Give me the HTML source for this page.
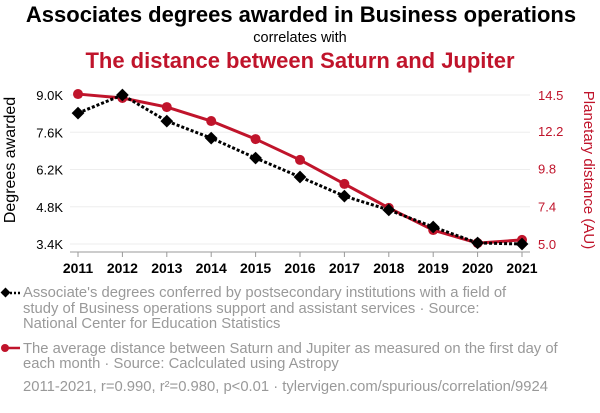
<!DOCTYPE html>
<html><head><meta charset="utf-8"><style>
body{margin:0;width:600px;height:408px;background:#fff;overflow:hidden;font-family:"Liberation Sans",sans-serif}
svg text{font-family:"Liberation Sans",sans-serif}
</style></head><body>
<svg id="c" width="600" height="408">
<text x="301" y="22" text-anchor="middle" font-size="22" font-weight="bold" fill="#000">Associates degrees awarded in Business operations</text>
<text x="300" y="42" text-anchor="middle" font-size="14.5" fill="#000">correlates with</text>
<text x="300" y="68" text-anchor="middle" font-size="22" font-weight="bold" fill="#c0142b">The distance between Saturn and Jupiter</text>
<g id="grid"></g><g id="axes"></g><g id="marks"></g>
<text transform="translate(15,160) rotate(-90)" text-anchor="middle" font-size="16" fill="#000">Degrees awarded</text>
<text transform="translate(584,170) rotate(90)" text-anchor="middle" font-size="15" fill="#c0142b">Planetary distance (AU)</text>
<g>
<line x1="2" y1="293" x2="20" y2="293" stroke="#000" stroke-width="2.5" stroke-dasharray="2,2"/>
<rect x="2" y="289" width="7" height="7" transform="rotate(45 5.5 292.5)" fill="#000"/>
<text font-size="14.8" fill="#999"><tspan x="23" y="297">Associate's degrees conferred by postsecondary institutions with a field of</tspan><tspan x="23" y="313">study of Business operations support and assistant services · Source:</tspan><tspan x="23" y="328">National Center for Education Statistics</tspan></text>
</g>
<g>
<line x1="2" y1="348" x2="20" y2="348" stroke="#c0142b" stroke-width="2.5"/>
<circle cx="5" cy="348" r="4" fill="#c0142b"/>
<text font-size="14.8" fill="#999"><tspan x="23" y="353">The average distance between Saturn and Jupiter as measured on the first day of</tspan><tspan x="23" y="368">each month · Source: Caclculated using Astropy</tspan></text>
</g>
<text x="23" y="391" font-size="14.8" fill="#999">2011-2021, r=0.990, r²=0.980, p&lt;0.01 · tylervigen.com/spurious/correlation/9924</text>
</svg>
<script>
const years=[2011,2012,2013,2014,2015,2016,2017,2018,2019,2020,2021];
const degrees=[8.32,9.0,8.02,7.38,6.63,5.92,5.20,4.68,4.04,3.44,3.40];
const distance=[14.56,14.31,13.73,12.84,11.69,10.36,8.83,7.30,5.89,5.06,5.26];
const leftTicks=[3.4,4.8,6.2,7.6,9.0];
const leftLabels=["3.4K","4.8K","6.2K","7.6K","9.0K"];
const rightTicks=[5.0,7.4,9.8,12.2,14.5];
const rightLabels=["5.0","7.4","9.8","12.2","14.5"];
const NS="http://www.w3.org/2000/svg";
const x=y=>78+(y-2011)*44.4;
const yL=v=>244-(v-3.4)/5.6*149;
const yR=v=>244-(v-5.0)/9.5*149;
function mk(t,a,p){const e=document.createElementNS(NS,t);for(const k in a)e.setAttribute(k,a[k]);p.appendChild(e);return e;}
const grid=document.getElementById('grid'),axes=document.getElementById('axes'),marks=document.getElementById('marks');
leftTicks.forEach((v,i)=>{
 const g=mk('line',{x1:70,x2:530,y1:yL(v),y2:yL(v),stroke:'#eee','stroke-width':1},grid);
 
 
 const t=mk('text',{x:63,y:yL(v)+5,'text-anchor':'end','font-size':13,fill:'#000'},axes);t.textContent=leftLabels[i];
 
 
});
rightTicks.forEach((v,i)=>{
 const t=mk('text',{x:538,y:yR(v)+5,'font-size':13,fill:'#c0142b'},axes);t.textContent=rightLabels[i];
 
 
});
const ax=mk('line',{x1:70,x2:530,y1:252,y2:252,stroke:'#999','stroke-width':1},axes);


years.forEach(yr=>{
 mk('line',{x1:x(yr),x2:x(yr),y1:252,y2:257,stroke:'#999'},axes);
 const t=mk('text',{x:x(yr),y:273,'text-anchor':'middle','font-size':14,'font-weight':'bold',fill:'#000'},axes);t.textContent=yr;
 
 
});
const rl=mk('polyline',{points:years.map((yr,i)=>x(yr)+','+yR(distance[i])).join(' '),fill:'none',stroke:'#c0142b','stroke-width':3},marks);


years.forEach((yr,i)=>{const c=mk('circle',{cx:x(yr),cy:yR(distance[i]),r:5,fill:'#c0142b'},marks);
 
 });
const bl=mk('polyline',{points:years.map((yr,i)=>x(yr)+','+yL(degrees[i])).join(' '),fill:'none',stroke:'#000','stroke-width':3,'stroke-dasharray':'3,2'},marks);


years.forEach((yr,i)=>{const cx=x(yr),cy=yL(degrees[i]);
 const d=mk('rect',{x:cx-4.5,y:cy-4.5,width:9,height:9,transform:`rotate(45 ${cx} ${cy})`,fill:'#000'},marks);
 
 });
</script>
</body></html>
